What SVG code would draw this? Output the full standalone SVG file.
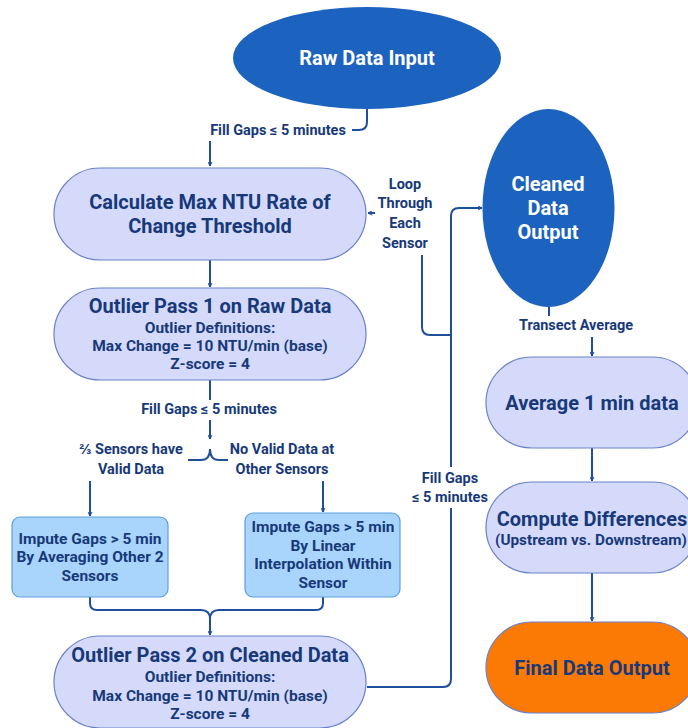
<svg xmlns="http://www.w3.org/2000/svg" width="688" height="728" viewBox="0 0 688 728">
<defs>
<marker id="ah" viewBox="0 0 10 10" refX="9" refY="5" markerWidth="5" markerHeight="5" orient="auto-start-reverse" markerUnits="userSpaceOnUse">
<path d="M1,1 L9,5 L1,9" fill="none" stroke="#1f4e9c" stroke-width="2" stroke-linecap="round" stroke-linejoin="round"/>
</marker>
<style>
text{font-family:Roboto,"Liberation Sans",sans-serif;font-weight:700;text-anchor:middle;fill:#17397a}
.w{fill:#ffffff;font-size:20px}
.t{font-size:20px}
.s{font-size:15.5px}
.l{font-size:14.5px}
.blue{fill:#1c62bf}
.lav{fill:#d5dafb;stroke:#6a82c8;stroke-width:1.2}
.lb{fill:#a9d4fb;stroke:#5f9ee0;stroke-width:1.2}
.or{fill:#fb7a05;stroke:#6a82c8;stroke-width:1.2}
.c{fill:none;stroke:#1f4e9c;stroke-width:2}
.bg{fill:#ffffff}
</style>
</defs>
<rect width="688" height="728" fill="#ffffff"/>

<g id="connectors">
<path class="c" d="M367,109 V122 Q367,130 359,130 H218 Q210,130 210,138 V166" marker-end="url(#ah)"/>
<rect class="bg" x="204" y="120" width="148" height="21"/>
<text class="l" x="278" y="135">Fill Gaps ≤ 5 minutes</text>

<path class="c" d="M210,260 V287" marker-end="url(#ah)"/>

<path class="c" d="M210,380 V439" marker-end="url(#ah)"/>
<rect class="bg" x="130" y="400" width="160" height="20"/>
<text class="l" x="209" y="414">Fill Gaps ≤ 5 minutes</text>
<path class="c" d="M188,460 H201 Q210,460 210,449 Q210,460 219,460 H228"/>
<text class="l" x="131" y="454">⅔ Sensors have</text>
<text class="l" x="131" y="474">Valid Data</text>
<text class="l" x="282" y="454">No Valid Data at</text>
<text class="l" x="282" y="474">Other Sensors</text>
<path class="c" d="M90,481 V516" marker-end="url(#ah)"/>
<path class="c" d="M323,481 V512" marker-end="url(#ah)"/>

<path class="c" d="M90,597 V603 Q90,610 97,610 H201 Q210,610 210,619 V635" marker-end="url(#ah)"/>
<path class="c" d="M323,597 V603 Q323,610 316,610 H219 Q210,610 210,619"/>

<path class="c" d="M367,687 H443 Q451,687 451,679 V216 Q451,208 459,208 H482" marker-end="url(#ah)"/>
<rect class="bg" x="414" y="467" width="74" height="41"/>
<text class="l" x="450" y="483">Fill Gaps</text>
<text class="l" x="450" y="502">≤ 5 minutes</text>

<path class="c" d="M451,335 H430 Q422,335 422,327 V213 H368" marker-end="url(#ah)"/>
<rect class="bg" x="375" y="172" width="61" height="83"/>
<text class="l" x="405" y="189">Loop</text>
<text class="l" x="405" y="208">Through</text>
<text class="l" x="405" y="228">Each</text>
<text class="l" x="405" y="248">Sensor</text>

<path class="c" d="M549,307 V326 H592 V356" marker-end="url(#ah)"/>
<rect class="bg" x="514" y="316" width="124" height="21"/>
<text class="l" x="576" y="330">Transect Average</text>

<path class="c" d="M592,448 V481" marker-end="url(#ah)"/>
<path class="c" d="M592,573 V621" marker-end="url(#ah)"/>
</g>

<g id="raw">
<ellipse class="blue" cx="367" cy="58" rx="134" ry="51"/>
<text class="w" x="367" y="65">Raw Data Input</text>
</g>

<g id="calc">
<rect class="lav" x="54" y="168" width="312" height="92" rx="46"/>
<text class="t" x="210" y="209">Calculate Max NTU Rate of</text>
<text class="t" x="210" y="233">Change Threshold</text>
</g>

<g id="pass1">
<rect class="lav" x="54" y="288" width="312" height="92" rx="46"/>
<text class="t" x="210" y="313">Outlier Pass 1 on Raw Data</text>
<text class="s" x="210" y="333">Outlier Definitions:</text>
<text class="s" x="210" y="351">Max Change = 10 NTU/min (base)</text>
<text class="s" x="210" y="369">Z-score = 4</text>
</g>

<g id="imputeAvg">
<rect class="lb" x="12" y="517" width="156" height="80" rx="8"/>
<text class="s" x="90" y="544">Impute Gaps &gt; 5 min</text>
<text class="s" x="90" y="562">By Averaging Other 2</text>
<text class="s" x="90" y="581">Sensors</text>
</g>

<g id="imputeLin">
<rect class="lb" x="245" y="513" width="155" height="84" rx="8"/>
<text class="s" x="323" y="532">Impute Gaps &gt; 5 min</text>
<text class="s" x="323" y="551">By Linear</text>
<text class="s" x="323" y="569">Interpolation Within</text>
<text class="s" x="323" y="588">Sensor</text>
</g>

<g id="pass2">
<rect class="lav" x="54" y="636" width="312" height="92" rx="46"/>
<text class="t" x="210" y="662">Outlier Pass 2 on Cleaned Data</text>
<text class="s" x="210" y="682">Outlier Definitions:</text>
<text class="s" x="210" y="701">Max Change = 10 NTU/min (base)</text>
<text class="s" x="210" y="719">Z-score = 4</text>
</g>

<g id="cleaned">
<ellipse class="blue" cx="548.5" cy="208" rx="66" ry="99"/>
<text class="w" x="548" y="191">Cleaned</text>
<text class="w" x="548" y="215">Data</text>
<text class="w" x="548" y="239">Output</text>
</g>

<g id="avg">
<rect class="lav" x="486" y="357" width="212" height="91" rx="45.5"/>
<text class="t" x="592" y="410">Average 1 min data</text>
</g>

<g id="diff">
<rect class="lav" x="486" y="482" width="212" height="91" rx="45.5"/>
<text class="t" x="592" y="526">Compute Differences</text>
<text x="591" y="545" font-size="15.3">(Upstream vs. Downstream)</text>
</g>

<g id="final">
<rect class="or" x="486" y="622" width="212" height="91" rx="45.5"/>
<text class="t" x="592" y="675">Final Data Output</text>
</g>
</svg>
